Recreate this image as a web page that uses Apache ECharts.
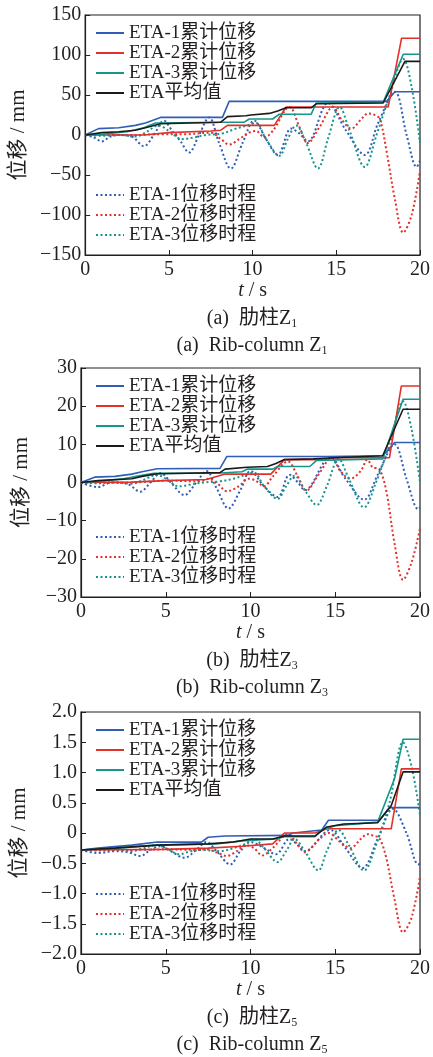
<!DOCTYPE html>
<html>
<head>
<meta charset="utf-8">
<script src="https://cdn.jsdelivr.net/npm/echarts@6/dist/echarts.min.js"></script>
<style>
  html, body { margin: 0; padding: 0; background: #fff; }
  #chart { width: 433px; height: 1057px; }
</style>
</head>
<body>
<div id="chart"></div>
<script>
// legend names
const cumNames = ["ETA-1累计位移", "ETA-2累计位移", "ETA-3累计位移", "ETA平均值"];
const disNames = ["ETA-1位移时程", "ETA-2位移时程", "ETA-3位移时程"];

// panel (a) rib-column Z1, [t (s), displacement (mm)]
const z1Cum1 = [[0,0],[0.8,8],[2,9],[3,12],[3.6,15],[4.5,22],[8.2,22],[8.6,42],[18.0,42],[18.5,54],[20,54]];
const z1Cum2 = [[0,0],[3.5,0],[5,3],[7.5,5],[8.1,6],[8.5,12],[11.3,12],[12,35],[18.1,35],[18.9,121],[20,121]];
const z1Cum3 = [[0,0],[1,1],[2.5,4],[3.5,9],[4.2,15],[8.1,16],[9.5,16],[9.8,20],[11.2,20],[11.6,26],[13.5,26],[13.8,40],[17.8,41],[19,101],[20,101]];
const z1Avg = [[0,0],[1,3],[2,4],[3,6],[3.6,9],[4.5,14],[8.1,16],[8.5,23],[9.6,24],[9.9,25],[11,27],[11.5,30],[12,34],[13.5,34],[13.8,39],[17.8,40],[19.1,92],[20,92]];
const z1Dis1 = [[0,0],[0.5,-3],[1,-8],[1.5,-2],[2,0],[2.8,-2],[3.5,-14],[4.1,0],[4.7,18],[5.2,5],[5.7,-8],[6.2,-22],[6.8,0],[7.4,22],[8,-10],[8.7,-42],[9.4,-10],[10.1,18],[10.8,-5],[11.5,-25],[12.3,8],[12.8,2],[13.3,-8],[14.5,40],[15.6,5],[16.7,-25],[17.5,15],[18.5,54],[19.2,0],[19.8,-40],[20,-32]];
const z1Dis2 = [[0,0],[3,0],[4.5,1],[6,1],[7.5,3],[8.1,-5],[8.6,-12],[9.2,-5],[9.8,3],[10.2,5],[10.7,-3],[11.2,5],[12.2,35],[12.8,10],[13.3,-10],[14,10],[14.8,35],[15.3,20],[15.9,8],[16.5,20],[16.9,27],[17.3,25],[17.6,20],[18,-20],[18.5,-80],[19,-122],[19.5,-100],[20,-45]];
const z1Dis3 = [[0,0],[1,-1],[2,0],[3,-2],[3.6,3],[4.4,12],[5,5],[5.8,-5],[6.5,-3],[7.2,0],[8.2,2],[9,8],[9.7,12],[10.2,15],[10.8,-5],[11.6,-26],[12.1,-5],[12.6,12],[13.2,-10],[13.9,-42],[14.5,-5],[15.2,35],[15.8,5],[16.7,-40],[17.4,0],[18.2,50],[19,95],[19.5,60],[20,-10]];

// panel (b) rib-column Z3
const z3Cum1 = [[0,0],[0.8,1.4],[2,1.6],[3,2.2],[3.6,2.8],[4.5,3.6],[8.2,3.7],[8.6,6.8],[14.5,6.8],[14.6,7.0],[17.8,7.0],[18.5,10.5],[20,10.5]];
const z3Cum2 = [[0,0],[3,0.1],[5,0.5],[7.4,0.8],[8.5,2.2],[11.2,2.2],[12,6],[14.5,6],[14.8,6.5],[18.2,6.5],[18.9,25.3],[20,25.3]];
const z3Cum3 = [[0,0],[1,0.3],[2.5,1],[3.5,1.8],[4.3,2.4],[8.2,2.5],[9.5,2.8],[9.8,3.5],[11.3,3.5],[11.6,4.2],[13.5,4.2],[13.9,5.8],[17.8,6.2],[19,21.8],[20,21.8]];
const z3Avg = [[0,0],[1,0.5],[3,1],[3.6,1.6],[4.5,2.3],[8.2,2.6],[8.5,3.5],[9.8,4],[11,4.2],[11.5,5],[12,6],[13.7,6.2],[15,6.5],[17.8,7],[19,19.2],[20,19.2]];
const z3Dis1 = [[0,0],[1,-1.2],[1.8,0],[2.7,-0.3],[3.5,-2.4],[4.1,0],[4.7,2.5],[5.3,0],[6.1,-3.3],[6.8,0],[7.4,3],[8,-1.5],[8.7,-6.8],[9.4,-2],[10,3],[10.8,-1],[11.6,-3.8],[12.3,2],[12.8,0],[13.2,-2],[14.7,6.6],[15.6,1],[16.7,-4.5],[17.5,2],[18.5,10],[19.2,1],[19.9,-7],[20,-6.5]];
const z3Dis2 = [[0,0],[3,0],[5,0.5],[7,0.3],[7.5,1],[8.1,-0.5],[8.6,-2.3],[9.3,-1],[9.9,1],[10.3,0.5],[10.8,-1],[11.3,1.5],[12.2,5.5],[12.8,1.5],[13.3,-2.1],[14,2],[14.8,6.5],[15.3,3],[15.9,1],[16.5,3],[16.9,6],[17.2,4],[17.6,3.5],[18,-2],[18.5,-16],[19,-25.5],[19.5,-21],[20,-12]];
const z3Dis3 = [[0,0],[1,-0.2],[2,0],[3,-0.3],[3.6,0.5],[4.5,2],[5,1],[5.8,-1],[6.5,-0.5],[7.2,0],[8.2,0.3],[9,1],[9.7,2],[10.2,2.6],[10.8,-1],[11.6,-4.3],[12.1,-1],[12.6,1.8],[13.2,-2],[13.9,-5.9],[14.5,-1],[15.2,6.2],[15.8,1],[16.7,-6.5],[17.4,0],[18.2,10],[19,21.3],[19.5,14],[20,0]];

// panel (c) rib-column Z5
const z5Cum1 = [[0,-0.28],[1,-0.25],[3,-0.2],[4.5,-0.15],[7.1,-0.15],[7.5,-0.07],[8.5,-0.05],[12.2,-0.04],[12.5,0],[14.2,0.05],[14.6,0.21],[17.6,0.21],[18.2,0.42],[20,0.42]];
const z5Cum2 = [[0,-0.28],[5,-0.27],[7.5,-0.25],[9.5,-0.22],[11.3,-0.18],[12,0],[13.8,0],[14.5,0.07],[18.3,0.07],[18.9,1.06],[20,1.06]];
const z5Cum3 = [[0,-0.28],[2,-0.25],[4.5,-0.2],[8,-0.18],[9.5,-0.13],[11.5,-0.1],[12,-0.06],[13.8,-0.06],[14.2,0.05],[15,0.12],[17.5,0.18],[18.5,0.9],[19,1.55],[20,1.55]];
const z5Avg = [[0,-0.28],[2,-0.25],[4.5,-0.2],[7.5,-0.18],[9,-0.15],[10,-0.1],[11.3,-0.1],[12,-0.05],[13.8,-0.05],[14.5,0.1],[15.5,0.15],[17.5,0.17],[18.3,0.45],[19,1.01],[20,1.01]];
const z5Dis1 = [[0,-0.28],[1,-0.33],[2,-0.3],[2.8,-0.32],[3.5,-0.38],[4.1,-0.28],[4.7,-0.22],[5.3,-0.3],[6.1,-0.41],[6.8,-0.28],[7.4,-0.15],[8,-0.3],[8.8,-0.52],[9.4,-0.3],[10,-0.15],[10.8,-0.25],[11.5,-0.35],[12.3,-0.1],[12.8,-0.2],[13.2,-0.3],[14.7,0.05],[15.6,-0.25],[16.6,-0.58],[17.5,-0.1],[18.4,0.4],[19.2,0],[19.9,-0.52],[20,-0.5]];
const z5Dis2 = [[0,-0.28],[3,-0.28],[5,-0.27],[7,-0.28],[7.4,-0.27],[8,-0.32],[8.6,-0.38],[9.2,-0.3],[9.7,-0.2],[10.2,-0.25],[10.7,-0.37],[11.3,-0.25],[12.2,-0.02],[12.8,-0.2],[13.2,-0.32],[14,-0.12],[14.6,0],[15.3,-0.15],[15.9,-0.25],[16.5,-0.1],[16.9,-0.02],[17.3,-0.05],[17.6,-0.08],[18,-0.4],[18.5,-1.1],[19,-1.64],[19.5,-1.4],[20,-0.72]];
const z5Dis3 = [[0,-0.28],[1,-0.29],[2,-0.28],[3,-0.3],[3.6,-0.26],[4.5,-0.2],[5,-0.25],[5.8,-0.35],[6.5,-0.3],[7.2,-0.28],[8.2,-0.3],[9,-0.25],[9.7,-0.18],[10.2,-0.1],[10.8,-0.25],[11.6,-0.48],[12.1,-0.3],[12.6,-0.1],[13.2,-0.3],[14,-0.62],[14.5,-0.3],[15.2,0.05],[15.8,-0.2],[16.7,-0.62],[17.4,-0.2],[18.2,0.5],[19,1.5],[19.5,1.1],[20,0.3]];

// axes per panel
const yRanges = [[-150, 150, 50], [-30, 30, 10], [-2, 2, 0.5]];
const captionsCn = ["(a)  肋柱Z{s|1}", "(b)  肋柱Z{s|3}", "(c)  肋柱Z{s|5}"];
const captionsEn = ["(a)  Rib-column Z{s|1}", "(b)  Rib-column Z{s|3}", "(c)  Rib-column Z{s|5}"];

const panels = [
  { cum: [z1Cum1, z1Cum2, z1Cum3, z1Avg], dis: [z1Dis1, z1Dis2, z1Dis3] },
  { cum: [z3Cum1, z3Cum2, z3Cum3, z3Avg], dis: [z3Dis1, z3Dis2, z3Dis3] },
  { cum: [z5Cum1, z5Cum2, z5Cum3, z5Avg], dis: [z5Dis1, z5Dis2, z5Dis3] },
];

const gridBoxes = [
  { top: 15, height: 240 },
  { top: 368, height: 229 },
  { top: 712, height: 242 },
];

const colors = ["#2f5db8", "#e2302b", "#16968a", "#1a1a1a"];
const ink = "#231f20";
const font = "Liberation Serif, Noto Sans CJK SC, serif";

const chart = echarts.init(document.getElementById("chart"));

function fmtTick(decimals) {
  return (v) => {
    if (v === 0) return "0";
    const s = decimals ? v.toFixed(1) : String(v);
    return s.replace("-", "−");
  };
}

const grids = [];
const xAxes = [];
const yAxes = [];
const legends = [];
const series = [];
const graphics = [];

gridBoxes.forEach((box, i) => {
  grids.push({
    left: 81, right: 10, top: box.top, height: box.height,
    show: true, borderColor: ink, borderWidth: 1.2, backgroundColor: "transparent",
  });

  xAxes.push({
    type: "value", gridIndex: i, min: 0, max: 20, interval: 5,
    name: "{i|t} / s", nameLocation: "middle", nameGap: 26,
    nameTextStyle: { fontFamily: font, fontSize: 20, color: ink, rich: { i: { fontStyle: "italic", fontFamily: font, fontSize: 20, color: ink } } },
    axisLine: { show: true, onZero: false, lineStyle: { color: ink, width: 1.2 } },
    axisTick: { show: true, inside: true, length: 5, lineStyle: { color: ink } },
    axisLabel: { fontFamily: font, fontSize: 20, color: ink, margin: 5 },
    splitLine: { show: false },
  });

  const [lo, hi, step] = yRanges[i];
  yAxes.push({
    type: "value", gridIndex: i, min: lo, max: hi, interval: step,
    name: "位移 / mm", nameLocation: "middle", nameGap: 49, nameRotate: 90,
    nameTextStyle: { fontFamily: font, fontSize: 21, color: ink },
    axisLine: { show: true, onZero: false, lineStyle: { color: ink, width: 1.2 } },
    axisTick: { show: true, inside: true, length: 5, lineStyle: { color: ink } },
    axisLabel: { fontFamily: font, fontSize: 20, color: ink, margin: 4, formatter: fmtTick(i === 2) },
    splitLine: { show: false },
  });

  const legendText = { fontFamily: font, fontSize: 19, color: ink, lineHeight: 20 };
  const bottom = box.top + box.height;
  legends.push({
    data: cumNames, orient: "vertical", left: 95, top: box.top + 8,
    itemWidth: 28, itemHeight: 10, itemGap: 0, padding: 0, textStyle: legendText,
    itemStyle: { opacity: 0 },
  });
  legends.push({
    data: disNames, orient: "vertical", left: 95, top: bottom - 70,
    itemWidth: 28, itemHeight: 10, itemGap: 0, padding: 0, textStyle: legendText,
    itemStyle: { opacity: 0 },
  });

  panels[i].dis.forEach((d, k) => {
    series.push({
      type: "line", name: disNames[k], xAxisIndex: i, yAxisIndex: i,
      data: d, smooth: 0.35, symbol: "none", showSymbol: false,
      lineStyle: { color: colors[k], width: 2, type: [2, 2.5] },
      itemStyle: { color: colors[k] },
      z: 2,
    });
  });
  panels[i].cum.forEach((d, k) => {
    series.push({
      type: "line", name: cumNames[k], xAxisIndex: i, yAxisIndex: i,
      data: d, symbol: "none", showSymbol: false,
      lineStyle: { color: colors[k], width: 1.6 },
      itemStyle: { color: colors[k] },
      z: 3,
    });
  });

  const rich = { s: { fontFamily: font, fontSize: 12, color: ink, verticalAlign: "bottom", padding: [10, 0, 0, 0] } };
  graphics.push({
    type: "text", x: 252, y: bottom + 64,
    style: { text: captionsCn[i], font: "20px " + font, fill: ink, align: "center", verticalAlign: "middle", rich },
  });
  graphics.push({
    type: "text", x: 252, y: bottom + 91,
    style: { text: captionsEn[i], font: "20px " + font, fill: ink, align: "center", verticalAlign: "middle", rich },
  });
});

chart.setOption({
  animation: false,
  backgroundColor: "#fff",
  grid: grids,
  xAxis: xAxes,
  yAxis: yAxes,
  legend: legends,
  series,
  graphic: graphics,
});
</script>
</body>
</html>
